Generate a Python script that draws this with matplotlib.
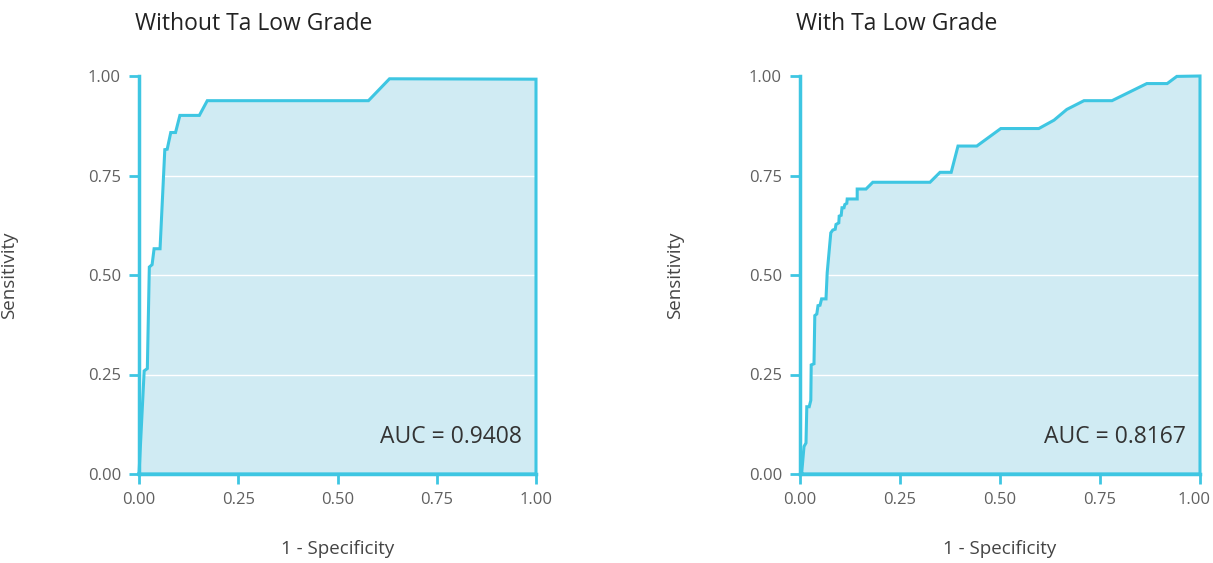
import numpy as np
import matplotlib.pyplot as plt
from matplotlib.transforms import ScaledTranslation

plt.rcParams['font.family'] = ['Open Sans', 'DejaVu Sans']

# ROC curve points (1 - specificity, sensitivity)
fpr_without = [0.0, 0.013, 0.021, 0.026, 0.033, 0.038, 0.053, 0.065, 0.071, 0.080,
               0.092, 0.103, 0.152, 0.172, 0.578, 0.631, 1.0]
tpr_without = [0.0, 0.259, 0.265, 0.520, 0.526, 0.566, 0.566, 0.815, 0.816, 0.858,
               0.858, 0.901, 0.901, 0.938, 0.938, 0.993, 0.992]

fpr_with = [0.004, 0.010, 0.015, 0.017, 0.023, 0.027, 0.028, 0.035, 0.037, 0.042,
            0.045, 0.050, 0.054, 0.065, 0.068, 0.077, 0.082, 0.088, 0.090, 0.097,
            0.098, 0.103, 0.105, 0.110, 0.112, 0.117, 0.118, 0.143, 0.143, 0.165,
            0.182, 0.325, 0.350, 0.378, 0.395, 0.442, 0.502, 0.597, 0.635, 0.667,
            0.710, 0.780, 0.867, 0.918, 0.942, 1.0]
tpr_with = [0.0, 0.069, 0.078, 0.169, 0.169, 0.185, 0.274, 0.277, 0.398, 0.402,
            0.423, 0.424, 0.440, 0.440, 0.506, 0.606, 0.613, 0.615, 0.627, 0.631,
            0.648, 0.650, 0.669, 0.669, 0.677, 0.680, 0.691, 0.691, 0.716, 0.716,
            0.733, 0.733, 0.758, 0.758, 0.824, 0.824, 0.868, 0.868, 0.889, 0.916,
            0.938, 0.938, 0.981, 0.981, 0.999, 1.0]

titles = ['Without Ta Low Grade', 'With Ta Low Grade']
auc_values = [0.9408, 0.8167]
tick_vals = [0, 0.25, 0.5, 0.75, 1.0]

LINE = '#3ec6e2'
FILL = '#d0ebf3'

fig = plt.figure(figsize=(12.13, 5.63), dpi=100)
axes_rects = [[139 / 1213, 1 - 474 / 563, 397 / 1213, 398 / 563],
              [800 / 1213, 1 - 474 / 563, 400 / 1213, 398 / 563]]
title_x = [135 / 1213, 796 / 1213]
ylabel_x = [-0.305, -0.29]

curves = [(fpr_without, tpr_without), (fpr_with, tpr_with)]

for i, (fpr, tpr) in enumerate(curves):
    ax = fig.add_axes(axes_rects[i])
    # closed polygon: curve, down the right edge, back along the bottom
    xs = list(fpr) + [1.0, 0.0, fpr[0]]
    ys = list(tpr) + [0.0, 0.0, tpr[0]]
    ax.fill(xs, ys, color=FILL, lw=0, zorder=1)
    for g in [0.25, 0.5, 0.75]:
        ax.axhline(g, color='white', lw=1, zorder=2)
    ax.plot(xs, ys, color=LINE, lw=2.2, zorder=3, clip_on=False,
            solid_joinstyle='miter')

    ax.set_xlim(0, 1)
    ax.set_ylim(0, 1)
    ax.set_xticks(tick_vals)
    ax.set_yticks(tick_vals)
    ax.set_xticklabels([f'{t:.2f}' for t in tick_vals])
    ax.set_yticklabels([f'{t:.2f}' for t in tick_vals])
    ax.tick_params(colors=LINE, labelcolor='#606060', labelsize=12,
                   length=7, width=2, direction='out', pad=6)
    for s in ['top', 'right']:
        ax.spines[s].set_visible(False)
    for s in ['left', 'bottom']:
        ax.spines[s].set_color(LINE)
        ax.spines[s].set_linewidth(2.5)

    # keep the last x tick label inside the figure
    if i == 1:
        lab = ax.xaxis.get_major_ticks()[-1].label1
        lab.set_transform(lab.get_transform() +
                          ScaledTranslation(-6 / 100, 0, fig.dpi_scale_trans))

    ax.set_xlabel('1 - Specificity', fontsize=13.5, color='#444444')
    ax.set_ylabel('Sensitivity', fontsize=13.5, color='#444444')
    ax.xaxis.set_label_coords(0.5, -0.165)
    ax.yaxis.set_label_coords(ylabel_x[i], 0.5)

    ax.text(0.965, 0.093, f'AUC = {auc_values[i]:.4f}', ha='right', va='center',
            fontsize=16.5, color='#333333', zorder=4)

    fig.text(title_x[i], 1 - 24 / 563, titles[i], ha='left', va='center',
             fontsize=16.5, color='#222222')

fig.savefig('out.png', dpi=100)
